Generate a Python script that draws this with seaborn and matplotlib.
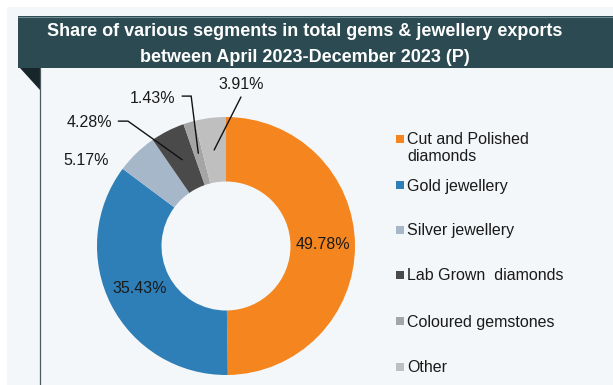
import numpy as np
import matplotlib
matplotlib.use("Agg")
import matplotlib.pyplot as plt
from matplotlib.patches import Rectangle, Polygon
import seaborn as sns

# ---- data ----
segments = ["Cut and Polished\ndiamonds", "Gold jewellery", "Silver jewellery",
            "Lab Grown  diamonds", "Coloured gemstones", "Other"]
shares = [49.78, 35.43, 5.17, 4.28, 1.43, 3.91]
share_labels = ["49.78%", "35.43%", "5.17%", "4.28%", "1.43%", "3.91%"]
title_lines = ["Share of various segments in total gems & jewellery exports",
               "between April 2023-December 2023 (P)"]

colors = ["#f5861f", "#2e7fb8", "#a7b7ca", "#4a4a4a", "#a5a5a5", "#bfbfbf"]

sns.set_theme(style="white")
plt.rcParams["font.family"] = ["Liberation Sans", "DejaVu Sans"]
palette = sns.color_palette(colors)

W, H = 613, 385
fig = plt.figure(figsize=(W / 100, H / 100), dpi=100)
fig.patch.set_facecolor("white")

# overlay axes in pixel coordinates
ov = fig.add_axes([0, 0, 1, 1], zorder=0)
ov.set_xlim(0, W)
ov.set_ylim(H, 0)
ov.axis("off")
ov.add_patch(Rectangle((7, 7), W - 7, H - 7, facecolor="#f4f7f9", edgecolor="none"))
ov.add_patch(Rectangle((18, 16), W - 18, 52, facecolor="#2b4a51", edgecolor="none"))
ov.plot([18, W], [16.5, 16.5], color="#6f8a90", lw=0.8)
ov.add_patch(Polygon([(20, 68), (40, 68), (40, 90)], closed=True,
                     facecolor="#16262a", edgecolor="none"))
ov.plot([39.5, 39.5], [68, H], color="#4f5a5e", lw=0.9)
ov.text(305, 31, title_lines[0], color="white", fontsize=13, fontweight="bold",
        ha="center", va="center")
ov.text(305, 58, title_lines[1], color="white", fontsize=13, fontweight="bold",
        ha="center", va="center")

# legend (manual)
leg_y = [139, 185, 230, 275, 321, 367]
for lab, col, y in zip(segments, palette, leg_y):
    ov.add_patch(Rectangle((396, y - 4), 8, 8, facecolor=col, edgecolor="none"))
    ov.text(407, y - 6.5, lab, fontsize=11.5, color="#1a1a1a", ha="left", va="top",
            linespacing=1.15)

# pie axes: center (226,246), radius 129 px
cx, cy, r = 226, 246, 129
ax = fig.add_axes([(cx - r) / W, (H - cy - r) / H, 2 * r / W, 2 * r / H], zorder=1)
ax.set_facecolor("none")
wedges, _ = ax.pie(shares, colors=palette, startangle=90, counterclock=False,
                   radius=1.0, wedgeprops=dict(width=0.5, linewidth=0))
ax.set_xlim(-1, 1)
ax.set_ylim(-1, 1)
ax.axis("off")

# mid angles from data
cum = np.cumsum([0] + shares[:-1])
mids = np.deg2rad(90 - (cum + np.array(shares) / 2) * 3.6)

txt_kw = dict(fontsize=11.5, color="#1a1a1a")
# inside labels
for i in (0, 1):
    ax.text(0.75 * np.cos(mids[i]), 0.75 * np.sin(mids[i]) + 0.01, share_labels[i],
            ha="center", va="center", **txt_kw)

# outside labels
ax.text(-1.085, 0.66, share_labels[2], ha="center", va="center", **txt_kw)

def leader(i, pts):
    x0, y0 = 0.75 * np.cos(mids[i]), 0.75 * np.sin(mids[i])
    xs = [p[0] for p in pts] + [x0]
    ys = [p[1] for p in pts] + [y0]
    ax.plot(xs, ys, color="#111111", lw=1.0, clip_on=False, solid_joinstyle="miter")

ax.text(-0.88, 0.96, share_labels[3], ha="right", va="center", **txt_kw)
leader(3, [(-0.835, 0.968), (-0.76, 0.968)])

ax.text(-0.395, 1.147, share_labels[4], ha="right", va="center", **txt_kw)
leader(4, [(-0.34, 1.162), (-0.27, 1.162)])

ax.text(0.12, 1.25, share_labels[5], ha="center", va="center", **txt_kw)
leader(5, [(0.116, 1.155)])

fig.savefig("out.png", dpi=100, facecolor=fig.get_facecolor())
